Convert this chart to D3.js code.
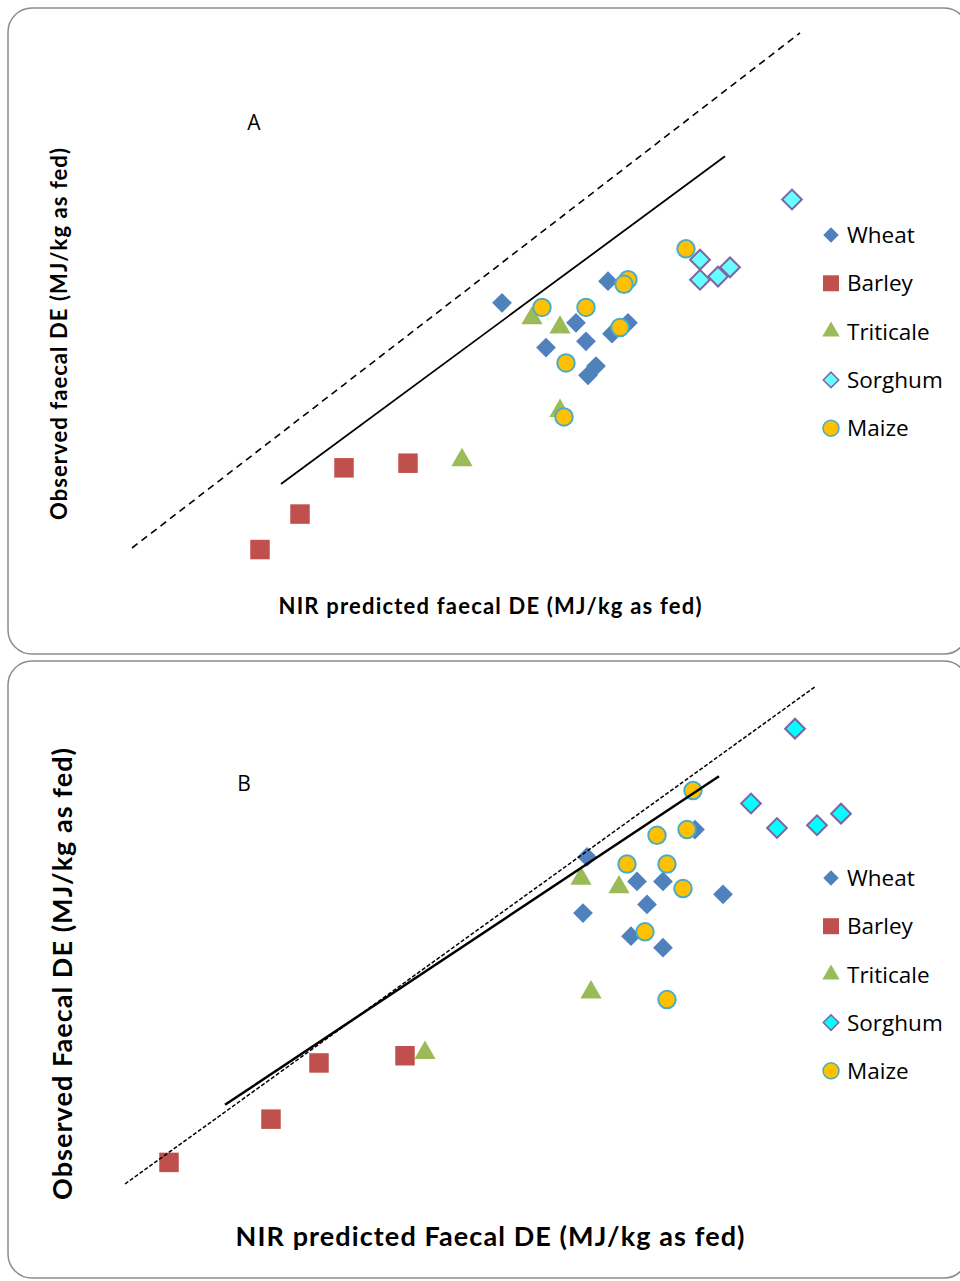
<!DOCTYPE html>
<html>
<head>
<meta charset="utf-8">
<script src="https://cdn.jsdelivr.net/npm/d3@7"></script>
<style>
  body { margin: 0; background: #fff; }
  svg { display: block; }
  .title { font-family: Lato, "Open Sans", sans-serif; font-weight: bold; fill: #000; }
  .legend text, .tag { font-family: "Open Sans", sans-serif; fill: #000; }
</style>
</head>
<body>
<div id="chart"></div>
<script>
(function(window,d3){
  'use strict';

  // series names, in draw order
  var seriesNames = ['Wheat', 'Barley', 'Triticale', 'Sorghum', 'Maize'];

  // panel A: [NIR predicted, observed] faecal DE, MJ/kg as fed
  var wheatA = [[13.85,13.59],[14.38,13.73],[14.22,13.46],[14.27,13.34],[14.07,13.30],
                [14.32,13.18],[14.28,13.12],[14.40,13.39],[14.48,13.46]];
  var barleyA = [[13.06,12.52],[13.38,12.55],[12.84,12.22],[12.64,11.99]];
  var triticaleA = [[14.00,13.49],[14.14,13.43],[14.14,12.89],[13.65,12.57]];
  var sorghumA = [[15.30,14.26],[14.84,13.87],[14.84,13.74],[14.93,13.76],[14.99,13.82]];
  var maizeA = [[14.05,13.56],[14.27,13.56],[14.48,13.74],[14.46,13.71],[14.44,13.43],
                [14.17,13.20],[14.16,12.85],[14.77,13.94]];
  var fitA = [[12.745,12.415],[14.965,14.54]];
  var unityA = [[12.0,12.0],[15.34,15.34]];

  // panel B
  var wheatB = [[14.31,14.27],[14.85,14.46],[14.56,14.10],[14.69,14.10],[14.61,13.94],
                [14.99,14.01],[14.29,13.88],[14.53,13.72],[14.69,13.64]];
  var barleyB = [[12.97,12.84],[13.40,12.89],[12.73,12.45],[12.22,12.15]];
  var triticaleB = [[14.28,14.12],[14.47,14.06],[14.33,13.33],[13.50,12.91]];
  var sorghumB = [[15.35,15.16],[15.13,14.64],[15.26,14.47],[15.46,14.49],[15.58,14.57]];
  var maizeB = [[14.84,14.73],[14.66,14.42],[14.81,14.46],[14.51,14.22],[14.71,14.22],
                [14.79,14.05],[14.60,13.75],[14.71,13.28]];
  var fitB = [[12.50,12.55],[14.97,14.83]];
  var unityB = [[12.0,12.0],[15.455,15.455]];

  var W = 960, H = 1281;

  var svg = d3.select('#chart').append('svg')
    .attr('width', W)
    .attr('height', H);

  var diamond = function(s) {
    return d3.symbol().type(d3.symbolSquare).size(s);
  };

  var styles = {
    Wheat:     { fill: '#4f81bd', stroke: 'none', sw: 0 },
    Barley:    { fill: '#c0504d', stroke: 'none', sw: 0 },
    Triticale: { fill: '#9bbb59', stroke: 'none', sw: 0 },
    Sorghum:   { fill: '#66ffff', stroke: '#8064a2', sw: 2 },
    Maize:     { fill: '#ffc000', stroke: '#4bacc6', sw: 2 }
  };

  var markPath = function(name, big) {
    if (name === 'Wheat' || name === 'Sorghum') return diamond(big ? 195 : 120)();
    if (name === 'Barley') return d3.symbol().type(d3.symbolSquare).size(big ? 380 : 256)();
    if (name === 'Triticale') return d3.symbol().type(d3.symbolTriangle).size(big ? 195 : 130)();
    return d3.symbol().type(d3.symbolCircle).size(big ? 240 : 200)();
  };

  var drawPanel = function(o) {
    var g = svg.append('g');

    g.append('rect')
      .attr('x', o.box[0]).attr('y', o.box[1])
      .attr('width', o.box[2]).attr('height', o.box[3])
      .attr('rx', 24).attr('ry', 24)
      .attr('fill', '#fff')
      .attr('stroke', '#8c8c8c')
      .attr('stroke-width', 1.5);

    var x = d3.scaleLinear().domain([12, 15.5]).range(o.xRange);
    var y = d3.scaleLinear().domain([12, 15.5]).range(o.yRange);

    o.series.forEach(function(data, i) {
      var name = seriesNames[i];
      var st = styles[name];
      if (name === 'Sorghum') st = Object.assign({}, st, { fill: o.sorghumFill });
      g.append('g')
        .selectAll('path')
        .data(data)
        .enter().append('path')
        .attr('d', markPath(name, true))
        .attr('transform', function(d) {
          var r = (name === 'Wheat' || name === 'Sorghum') ? ' rotate(45)' : '';
          return 'translate(' + x(d[0]) + ',' + y(d[1]) + ')' + r;
        })
        .attr('fill', st.fill)
        .attr('stroke', st.stroke)
        .attr('stroke-width', st.sw);
    });

    var line = d3.line()
      .x(function(d) { return x(d[0]); })
      .y(function(d) { return y(d[1]); });

    g.append('path')
      .datum(o.unity)
      .attr('d', line)
      .attr('fill', 'none')
      .attr('stroke', '#000')
      .attr('stroke-width', o.dashWidth)
      .attr('stroke-dasharray', o.dash);

    g.append('path')
      .datum(o.fit)
      .attr('d', line)
      .attr('fill', 'none')
      .attr('stroke', '#000')
      .attr('stroke-width', o.fitWidth);

    g.append('text')
      .attr('class', 'tag')
      .attr('x', o.tag[0]).attr('y', o.tag[1])
      .attr('text-anchor', 'middle')
      .style('font-size', '21px')
      .text(o.tagText);

    // Calibri is not installed: stretch the titles to the reference length
    g.append('text')
      .attr('class', 'title')
      .attr('x', o.xTitle[0]).attr('y', o.xTitle[1])
      .attr('text-anchor', 'middle')
      .attr('textLength', o.xTitle[2])
      .attr('lengthAdjust', 'spacing')
      .style('font-size', o.titleSize + 'px')
      .text(o.xTitleText);

    g.append('text')
      .attr('class', 'title')
      .attr('transform', 'translate(' + o.yTitle[0] + ',' + o.yTitle[1] + ') rotate(-90)')
      .attr('text-anchor', 'middle')
      .attr('textLength', o.yTitle[2])
      .attr('lengthAdjust', 'spacing')
      .style('font-size', o.titleSize + 'px')
      .text(o.yTitleText);

    var legend = g.append('g')
      .attr('class', 'legend')
      .selectAll('g')
      .data(seriesNames)
      .enter().append('g')
      .attr('transform', function(d, i) {
        return 'translate(' + o.legend[0] + ',' + (o.legend[1] + i * o.legendStep) + ')';
      });

    legend.append('path')
      .attr('d', function(d) { return markPath(d, false); })
      .attr('transform', function(d) {
        return (d === 'Wheat' || d === 'Sorghum') ? 'rotate(45)' : null;
      })
      .attr('fill', function(d) { return d === 'Sorghum' ? o.sorghumFill : styles[d].fill; })
      .attr('stroke', function(d) { return styles[d].stroke; })
      .attr('stroke-width', function(d) { return styles[d].sw ? 1.5 : 0; });

    legend.append('text')
      .attr('x', 16)
      .attr('dy', '0.36em')
      .style('font-size', '22.5px')
      .text(function(d) { return d; });
  };

  drawPanel({
    box: [8, 8, 960, 646],
    xRange: [132, 832],
    yRange: [548, 548 - 3.5 * 154.2],
    series: [wheatA, barleyA, triticaleA, sorghumA, maizeA],
    sorghumFill: '#66ffff',
    unity: unityA,
    fit: fitA,
    dash: '7,5',
    dashWidth: 1.6,
    fitWidth: 1.8,
    tag: [254, 130], tagText: 'A',
    xTitle: [490, 614, 423], xTitleText: 'NIR predicted faecal DE (MJ/kg as fed)',
    yTitle: [67, 334, 372], yTitleText: 'Observed faecal DE (MJ/kg as fed)',
    titleSize: 22,
    legend: [831, 235], legendStep: 48.3
  });

  drawPanel({
    box: [8, 661, 960, 617],
    xRange: [125, 825],
    yRange: [1184, 1184 - 3.5 * 144.1],
    series: [wheatB, barleyB, triticaleB, sorghumB, maizeB],
    sorghumFill: '#00ffff',
    unity: unityB,
    fit: fitB,
    dash: '4,2',
    dashWidth: 1.5,
    fitWidth: 2.5,
    tag: [244, 791], tagText: 'B',
    xTitle: [490, 1246, 509], xTitleText: 'NIR predicted Faecal DE (MJ/kg as fed)',
    yTitle: [72, 974, 452], yTitleText: 'Observed Faecal DE (MJ/kg as fed)',
    titleSize: 27,
    legend: [831, 878], legendStep: 48.2
  });

})(window,window.d3);
</script>
</body>
</html>
